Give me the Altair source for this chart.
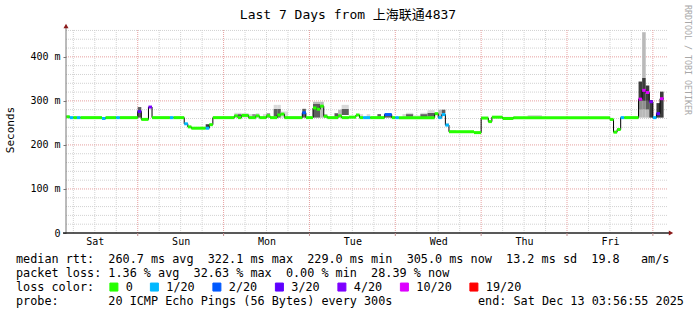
import altair as alt
import pandas as pd

# ---------------- data ----------------
# median segments: hour-of-week bins (hours since Sat 00:00)
seg_start = [4, 5, 6, 7, 8,
             14, 15, 18, 19,
             24, 25, 27, 28,
             33, 34, 37, 38, 39,
             43, 44, 45,
             51, 52, 53, 55, 57, 58,
             60, 61, 63, 64, 65,
             70, 71, 73, 74, 75, 76, 77,
             80, 81, 83, 85, 86, 87, 89,
             93, 95, 96, 97,
             107, 108, 109, 110, 111,
             118, 120, 122, 123, 126, 129,
             156, 157, 158, 159, 160,
             164, 165, 166, 167, 168, 169, 170]
seg_end = [5, 6, 7, 8, 14,
           15, 18, 19, 24,
           25, 27, 28, 33,
           34, 37, 38, 39, 43,
           44, 45, 51,
           52, 53, 55, 57, 58, 60,
           61, 63, 64, 65, 70,
           71, 73, 74, 75, 76, 77, 80,
           81, 83, 85, 86, 87, 89, 93,
           95, 96, 97, 107,
           108, 109, 110, 111, 118,
           120, 122, 123, 126, 129, 156,
           157, 158, 159, 160, 164,
           165, 166, 167, 168, 169, 170, 171]
seg_median = [264, 262, 262, 262, 262,
              260, 262, 262, 262,
              276, 258, 286, 262,
              262, 262, 248, 241, 238,
              238, 246, 262,
              266, 262, 267, 262, 266, 262,
              266, 262, 268, 270, 262,
              273, 262, 284, 281, 288, 265, 262,
              266, 262, 263, 268, 262, 262, 262,
              269, 262, 262, 262,
              271, 262, 269, 245, 230,
              228, 261, 253, 263, 260, 262,
              258, 229, 235, 262, 262,
              304, 324, 319, 298, 262, 271, 305]
seg_loss = ["0", "1/20", "0", "1/20", "0",
            "1/20", "0", "1/20", "0",
            "3/20", "0", "4/20", "0",
            "1/20", "0", "1/20", "0", "0",
            "1/20", "0", "0",
            "0", "0", "0", "0", "0", "0",
            "0", "0", "0", "0", "0",
            "2/20", "0", "0", "0", "0", "0", "0",
            "0", "0", "0", "0", "0", "1/20", "0",
            "2/20", "0", "1/20", "0",
            "0", "1/20", "1/20", "1/20", "0",
            "0", "0", "0", "0", "0", "0",
            "0", "0", "0", "1/20", "0",
            "10/20", "10/20", "10/20", "4/20", "1/20", "3/20", "10/20"]

# smoke bands (ping spread)
smoke_start = [24, 43,
               51, 52, 52, 53, 55, 56, 57, 59, 60,
               62, 62, 63, 63, 64,
               70, 73, 73, 75, 76,
               79, 80, 81, 81,
               86, 88, 91, 93,
               98, 99, 99, 101, 103, 103, 105, 105,
               108, 109, 110, 111,
               120, 126, 133,
               164, 164, 164,
               165, 165, 165, 165,
               166, 166, 166,
               167, 169, 170]
smoke_end = [25, 44,
             52, 53, 53, 55, 56, 57, 58, 60, 61,
             63, 63, 64, 64, 66,
             71, 75, 75, 76, 77,
             80, 81, 83, 83,
             87, 89, 92, 95,
             99, 101, 101, 103, 105, 105, 107, 107,
             109, 110, 111, 113,
             122, 129, 137,
             165, 165, 165,
             166, 166, 166, 166,
             167, 167, 167,
             168, 170, 171]
smoke_lo = [262, 238,
            262, 264, 270, 262, 262, 262, 262, 262, 262,
            264, 282, 262, 282, 262,
            262, 262, 293, 262, 262,
            264, 262, 268, 282,
            262, 262, 264, 262,
            262, 264, 270, 262, 262, 270, 264, 273,
            262, 272, 245, 230,
            261, 260, 262,
            262, 280, 300,
            352, 300, 280, 262,
            300, 280, 262,
            262, 262, 262]
smoke_hi = [286, 247,
            273, 270, 273, 272, 270, 270, 272, 270, 272,
            282, 291, 282, 291, 276,
            282, 293, 298, 298, 270,
            272, 280, 282, 291,
            270, 270, 270, 269,
            270, 270, 273, 267, 270, 273, 273, 279,
            280, 280, 250, 234,
            264, 264, 268,
            280, 300, 344,
            456, 352, 300, 280,
            335, 300, 280,
            302, 295, 321]
smoke_shade = [3, 4,
               0, 3, 0, 0, 0, 2, 0, 0, 2,
               3, 0, 3, 0, 0,
               3, 3, 1, 1, 1,
               3, 1, 3, 0,
               0, 0, 3, 3,
               0, 3, 0, 0, 3, 0, 3, 0,
               1, 3, 0, 0,
               0, 0, 0,
               1, 2, 4,
               1, 4, 2, 1,
               4, 3, 1,
               4, 4, 4]

loss_labels = ["0", "1/20", "2/20", "3/20", "4/20", "10/20", "19/20"]
loss_colors = ["#26ff00", "#00b8ff", "#0059ff", "#5e00ff", "#7e00ff", "#dd00ff", "#ff0000"]
shade_colors = ["#d9d9d9", "#bababa", "#8e8e8e", "#5e5e5e", "#3c3c3c"]

day_names = ["Sat", "Sun", "Mon", "Tue", "Wed", "Thu", "Fri"]
day_label_hours = [12, 36, 60, 84, 108, 132, 156]
day_boundaries = [24, 48, 72, 96, 120, 144, 168]
minor_x = [6, 12, 18, 30, 36, 42, 54, 60, 66, 78, 84, 90, 102, 108, 114,
           126, 132, 138, 150, 156, 162]
y_major = [0, 100, 200, 300, 400]
y_minor = [20, 40, 60, 80, 120, 140, 160, 180, 220, 240, 260, 280,
           320, 340, 360, 380, 420, 440, 460]
x_domain = [3.95, 171.95]
y_domain = [0, 461]

title_text = "Last 7 Days from 上海联通4837"
line1 = "median rtt:  260.7 ms avg  322.1 ms max  229.0 ms min  305.0 ms now  13.2 ms sd  19.8   am/s"
line2 = "packet loss: 1.36 % avg  32.63 % max  0.00 % min  28.39 % now"
line3 = "loss color:"
line4 = "probe:       20 ICMP Echo Pings (56 Bytes) every 300s"
line4r = "end: Sat Dec 13 03:56:55 2025"

assert len(seg_start) == len(seg_end) == len(seg_median) == len(seg_loss)
assert len(smoke_start) == len(smoke_end) == len(smoke_lo) == len(smoke_hi) == len(smoke_shade)

# ---------------- chart ----------------
W, H = 601, 203
MONO = "DejaVu Sans Mono"
NB = lambda s: s.replace(" ", "\u00a0")

xs = alt.Scale(domain=x_domain, nice=False, zero=False)
ys = alt.Scale(domain=y_domain, nice=False, zero=False)
loss_scale = alt.Scale(domain=loss_labels, range=loss_colors)

label_expr = "[" + ",".join("'%s'" % d for d in day_names) + "][floor(datum.value / 24) % 7]"
X_AX = alt.Axis(values=day_label_hours, labelExpr=label_expr,
                ticks=False, domain=False, grid=False,
                labelFont=MONO, labelFontSize=10, labelColor="black",
                labelPadding=3, title=None, labelFlush=False,
                labelOverlap=False)
Y_AX = alt.Axis(values=y_major,
                labelExpr="datum.value == 0 ? '0' : datum.value + '\u00a0m'",
                tickSize=3, tickColor="#777777", domain=False, grid=False,
                labelFont=MONO, labelFontSize=10, labelColor="black",
                labelPadding=3, title=None)

seg_df = pd.DataFrame({"start": seg_start, "end": seg_end,
                       "median": seg_median, "loss": seg_loss})
line_df = pd.DataFrame({"t": seg_start + [seg_end[-1]],
                        "v": seg_median + [seg_median[-1]]})
smoke_df = pd.DataFrame({"start": smoke_start, "end": smoke_end,
                         "lo": smoke_lo, "hi": smoke_hi,
                         "col": [shade_colors[s] for s in smoke_shade]})
one = pd.DataFrame({"k": [0]})

grid_y_minor = alt.Chart(pd.DataFrame({"v": y_minor})).mark_rule(
    color="#d2d2d2", strokeDash=[1, 1], strokeWidth=1).encode(
    y=alt.Y("v:Q", scale=ys, axis=Y_AX), x=alt.value(0), x2=alt.value(W))
grid_x_minor = alt.Chart(pd.DataFrame({"v": minor_x})).mark_rule(
    color="#d2d2d2", strokeDash=[1, 1], strokeWidth=1).encode(
    x=alt.X("v:Q", scale=xs, axis=X_AX), y=alt.value(0), y2=alt.value(H))
grid_y_major = alt.Chart(pd.DataFrame({"v": y_major[1:]})).mark_rule(
    color="#e6a0a0", strokeDash=[1, 1], strokeWidth=1).encode(
    y=alt.Y("v:Q", scale=ys, axis=Y_AX), x=alt.value(0), x2=alt.value(W))
grid_x_major = alt.Chart(pd.DataFrame({"v": day_boundaries})).mark_rule(
    color="#e6a0a0", strokeDash=[1, 1], strokeWidth=1).encode(
    x=alt.X("v:Q", scale=xs, axis=X_AX), y=alt.value(0), y2=alt.value(H))
x_ticks = alt.Chart(pd.DataFrame({"v": day_boundaries})).mark_rule(
    color="#c09090", strokeWidth=1).encode(
    x=alt.X("v:Q", scale=xs, axis=X_AX), y=alt.value(H), y2=alt.value(H + 3))

smoke = alt.Chart(smoke_df).mark_rect().encode(
    x=alt.X("start:Q", scale=xs, axis=X_AX),
    x2="end:Q",
    y=alt.Y("lo:Q", scale=ys, axis=Y_AX),
    y2="hi:Q",
    fill=alt.Fill("col:N", scale=None))

median_line = alt.Chart(line_df).mark_line(
    interpolate="step-after", color="black", strokeWidth=1).encode(
    x=alt.X("t:Q", scale=xs, axis=X_AX),
    y=alt.Y("v:Q", scale=ys, axis=Y_AX))

segs = alt.Chart(seg_df).mark_rule(strokeWidth=3).encode(
    x=alt.X("start:Q", scale=xs, axis=X_AX),
    x2="end:Q",
    y=alt.Y("median:Q", scale=ys, axis=Y_AX),
    stroke=alt.Stroke("loss:N", scale=loss_scale, legend=None))

legend_layer = alt.Chart(pd.DataFrame({"loss": loss_labels})).mark_square(
    opacity=0, filled=True, stroke="black", strokeWidth=1, size=64).encode(
    x=alt.value(0), y=alt.value(0),
    fill=alt.Fill("loss:N", scale=loss_scale,
                  legend=alt.Legend(orient="none", legendX=42, legendY=251,
                                    direction="horizontal", title=None,
                                    symbolType="square", symbolSize=64,
                                    symbolStrokeColor="black", symbolStrokeWidth=1,
                                    symbolOpacity=1, labelFont=MONO,
                                    labelFontSize=11.8, labelColor="black",
                                    labelOffset=6, columnPadding=14.5,
                                    padding=0)))

y_axis_line = alt.Chart(one).mark_rule(color="#777777", strokeWidth=1).encode(
    x=alt.value(0), y=alt.value(-2), y2=alt.value(H))
x_axis_line = alt.Chart(one).mark_rule(color="#222222", strokeWidth=1.5).encode(
    x=alt.value(-3), x2=alt.value(W + 2), y=alt.value(H))
y_arrow = alt.Chart(one).mark_point(shape="triangle-up", filled=True, color="#8b1a1a",
                                    size=25, opacity=1).encode(
    x=alt.value(0), y=alt.value(-4))
x_arrow = alt.Chart(one).mark_point(shape="triangle-right", filled=True, color="#8b1a1a",
                                    size=25, opacity=1).encode(
    x=alt.value(W + 4), y=alt.value(H))


def txt(s, x, y, size=11.8, align="left", angle=0, color="black", font=MONO):
    return alt.Chart(one).mark_text(text=NB(s), align=align, baseline="middle",
                                    font=font, fontSize=size, angle=angle,
                                    color=color).encode(x=alt.value(x), y=alt.value(y))


texts = [
    txt(title_text, 282, -15.5, size=13, align="center",
        font="DejaVu Sans Mono, Noto Sans CJK SC"),
    txt("Seconds", -55, 100, size=11, align="center", angle=270),
    txt("RRDTOOL / TOBI OETIKER", 621, 30, size=8.3, align="center", angle=90,
        color="#a8a8a8"),
    txt(line1, -50, 229),
    txt(line2, -50, 243),
    txt(line3, -50, 257),
    txt(line4, -50, 271),
    txt(line4r, 412, 271),
]

chart = alt.layer(
    grid_y_minor, grid_x_minor, grid_y_major, grid_x_major,
    smoke, median_line, segs, legend_layer,
    y_axis_line, x_axis_line, x_ticks, y_arrow, x_arrow, *texts
).properties(
    width=W, height=H,
    autosize=alt.AutoSizeParams(type="none"),
    padding={"left": 66, "top": 30, "right": 30, "bottom": 82},
    background="white",
).configure_view(stroke=None)

chart.save("out.html", embed_options={"renderer": "svg", "actions": False})
